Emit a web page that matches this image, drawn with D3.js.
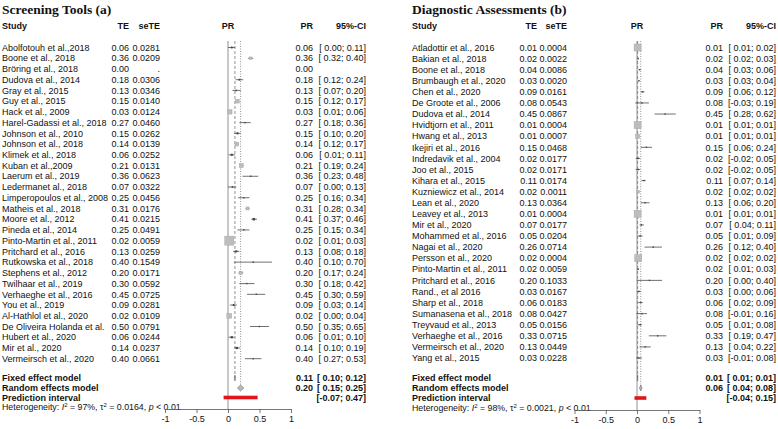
<!DOCTYPE html>
<html>
<head>
<meta charset="utf-8">
<script src="https://cdn.jsdelivr.net/npm/d3@7"></script>
<style>
  body { margin: 0; background: #fff; }
  svg text { font-family: "Liberation Sans", Arial, sans-serif; white-space: pre; fill: #111; }
</style>
</head>
<body>
<svg id="chart" width="778" height="429"></svg>
<script>
// ---- panel (a): screening tools ----
const studiesA = ["Abolfotouh et al.,2018", "Boone et al., 2018", "Bröring et al., 2018", "Dudova et al., 2014",
  "Gray et al., 2015", "Guy et al., 2015", "Hack et al., 2009", "Harel-Gadassi et al., 2018", "Johnson et al., 2010",
  "Johnson et al., 2018", "Klimek et al., 2018", "Kuban et al.,2009", "Laerum et al., 2019", "Ledermanet al., 2018",
  "Limperopoulos et al., 2008", "Matheis et al., 2018", "Moore et al., 2012", "Pineda et al., 2014",
  "Pinto-Martin et al., 2011", "Pritchard et al., 2016", "Rutkowska et al., 2018", "Stephens et al., 2012",
  "Twilhaar et al., 2019", "Verhaeghe et al., 2016", "You et al., 2019", "Al-Hathlol et al., 2020",
  "De Oliveira Holanda et al.", "Hubert et al., 2020", "Mir et al., 2020", "Vermeirsch et al., 2020"];
const teA = [0.06, 0.36, 0.00, 0.18, 0.13, 0.15, 0.03, 0.27, 0.15, 0.14, 0.06, 0.21, 0.36, 0.07, 0.25, 0.31, 0.41,
  0.25, 0.02, 0.13, 0.40, 0.20, 0.30, 0.45, 0.09, 0.02, 0.50, 0.06, 0.14, 0.40];
const seA = [0.0281, 0.0209, null, 0.0306, 0.0346, 0.0140, 0.0124, 0.0460, 0.0262, 0.0139, 0.0252, 0.0131, 0.0623,
  0.0322, 0.0456, 0.0176, 0.0215, 0.0491, 0.0059, 0.0259, 0.1549, 0.0171, 0.0592, 0.0725, 0.0281, 0.0109, 0.0791,
  0.0244, 0.0237, 0.0661];
const loA = [0.00, 0.32, null, 0.12, 0.07, 0.12, 0.01, 0.18, 0.10, 0.12, 0.01, 0.19, 0.23, 0.00, 0.16, 0.28, 0.37,
  0.15, 0.01, 0.08, 0.10, 0.17, 0.18, 0.30, 0.03, 0.00, 0.35, 0.01, 0.10, 0.27];
const hiA = [0.11, 0.40, null, 0.24, 0.20, 0.17, 0.06, 0.36, 0.20, 0.17, 0.11, 0.24, 0.48, 0.13, 0.34, 0.34, 0.46,
  0.34, 0.03, 0.18, 0.70, 0.24, 0.42, 0.59, 0.14, 0.04, 0.65, 0.10, 0.19, 0.53];
const summaryA = { fixed: [0.11, 0.10, 0.12], random: [0.20, 0.15, 0.25], pred: [-0.07, 0.47] };
const hetA = ["97%", "0.0164", "0.01"];

// ---- panel (b): diagnostic assessments ----
const studiesB = ["Atladottir et al., 2016", "Bakian et al., 2018", "Boone et al., 2018", "Brumbaugh et al., 2020",
  "Chen et al., 2020", "De Groote et al., 2006", "Dudova et al., 2014", "Hvidtjorn et al., 2011", "Hwang et al., 2013",
  "Ikejiri et al., 2016", "Indredavik et al., 2004", "Joo et al., 2015", "Kihara et al., 2015", "Kuzniewicz et al., 2014",
  "Lean et al., 2020", "Leavey et al., 2013", "Mir et al., 2020", "Mohammed et al., 2016", "Nagai et al., 2020",
  "Persson et al., 2020", "Pinto-Martin et al., 2011", "Pritchard et al., 2016", "Rand., et al 2016", "Sharp et al., 2018",
  "Sumanasena et al., 2018", "Treyvaud et al., 2013", "Verhaeghe et al., 2016", "Vermeirsch et al., 2020", "Yang et al., 2015"];
const teB = [0.01, 0.02, 0.04, 0.03, 0.09, 0.08, 0.45, 0.01, 0.01, 0.15, 0.02, 0.02, 0.11, 0.02, 0.13, 0.01, 0.07,
  0.05, 0.26, 0.02, 0.02, 0.20, 0.03, 0.06, 0.08, 0.05, 0.33, 0.13, 0.03];
const seB = [0.0004, 0.0022, 0.0086, 0.0020, 0.0161, 0.0543, 0.0867, 0.0004, 0.0007, 0.0468, 0.0177, 0.0171, 0.0174,
  0.0011, 0.0364, 0.0004, 0.0177, 0.0204, 0.0714, 0.0004, 0.0059, 0.1033, 0.0167, 0.0183, 0.0427, 0.0156, 0.0715,
  0.0449, 0.0228];
const loB = [0.01, 0.02, 0.03, 0.03, 0.06, -0.03, 0.28, 0.01, 0.01, 0.06, -0.02, -0.02, 0.07, 0.02, 0.06, 0.01, 0.04,
  0.01, 0.12, 0.02, 0.01, 0.00, 0.00, 0.02, -0.01, 0.01, 0.19, 0.04, -0.01];
const hiB = [0.02, 0.03, 0.06, 0.04, 0.12, 0.19, 0.62, 0.01, 0.01, 0.24, 0.05, 0.05, 0.14, 0.02, 0.20, 0.01, 0.11,
  0.09, 0.40, 0.02, 0.03, 0.40, 0.06, 0.09, 0.16, 0.08, 0.47, 0.22, 0.08];
const summaryB = { fixed: [0.01, 0.01, 0.01], random: [0.06, 0.04, 0.08], pred: [-0.04, 0.15] };
const hetB = ["98%", "0.0021", "0.01"];

const axisTicks = [-1, -0.5, 0, 0.5, 1];

const svg = d3.select("#chart");
const f2 = v => v.toFixed(2);
const ciText = (lo, hi) => "[" + (lo < 0 ? "" : " ") + f2(lo) + "; " + f2(hi) + "]";

function drawPanel(p) {
  const g = svg.append("g");
  const n = p.studies.length;
  const x = d3.scaleLinear().domain([-1, 1]).range(p.xRange);
  const y = d3.scaleLinear().domain([0, n - 1]).range([p.yFirst, p.yLast]);
  const fs = 9, off = 3.2;

  // title
  g.append("text").attr("x", p.studyX).attr("y", 14)
    .style("font-family", "'Liberation Serif', 'Times New Roman', serif")
    .style("font-weight", "bold").style("font-size", "13.5px").text(p.title);

  // headers
  const hy = 26 + off;
  const hdr = (tx, xx, anchor) => g.append("text").attr("x", xx).attr("y", hy).attr("text-anchor", anchor)
    .style("font-weight", "bold").style("font-size", fs + "px").text(tx);
  hdr("Study", p.studyX, "start");
  hdr("TE", p.teR, "end");
  hdr("seTE", p.seR, "end");
  hdr("PR", x(0), "middle");
  hdr("PR", p.prR, "end");
  hdr("95%-CI", p.ciR, "end");

  // study rows text
  const rows = g.append("g").style("font-size", fs + "px");
  p.studies.forEach((s, i) => {
    const yy = y(i) + off;
    rows.append("text").attr("x", p.studyX).attr("y", yy).text(s);
    rows.append("text").attr("x", p.teR).attr("y", yy).attr("text-anchor", "end").text(f2(p.te[i]));
    rows.append("text").attr("x", p.seR).attr("y", yy).attr("text-anchor", "end")
      .text(p.se[i] == null ? "." : p.se[i].toFixed(4));
    rows.append("text").attr("x", p.prR).attr("y", yy).attr("text-anchor", "end").text(f2(p.te[i]));
    if (p.lo[i] != null)
      rows.append("text").attr("x", p.ciR).attr("y", yy).attr("text-anchor", "end").text(ciText(p.lo[i], p.hi[i]));
  });

  // reference lines
  const top = 41;
  g.append("line").attr("x1", x(0)).attr("x2", x(0)).attr("y1", top).attr("y2", p.axisY)
    .attr("stroke", "#777").attr("stroke-width", 0.8);
  g.append("line").attr("x1", x(p.sum.fixed[0])).attr("x2", x(p.sum.fixed[0])).attr("y1", top).attr("y2", p.sumY[0])
    .attr("stroke", "#777").attr("stroke-width", 0.8).attr("stroke-dasharray", "3,2");
  g.append("line").attr("x1", x(p.sum.random[0])).attr("x2", x(p.sum.random[0])).attr("y1", top).attr("y2", p.sumY[1] - 3)
    .attr("stroke", "#777").attr("stroke-width", 0.8).attr("stroke-dasharray", "1,1.5");

  // CI lines and squares
  p.studies.forEach((s, i) => {
    if (p.se[i] == null) return;
    g.append("line").attr("x1", x(p.lo[i])).attr("x2", x(p.hi[i])).attr("y1", y(i)).attr("y2", y(i))
      .attr("stroke", "#333").attr("stroke-width", 0.7);
    const sz = Math.max(1.4, p.k / p.se[i]);
    g.append("rect").attr("x", x(p.te[i]) - sz / 2).attr("y", y(i) - sz / 2).attr("width", sz).attr("height", sz)
      .attr("fill", sz > 2.5 ? "#bdbdbd" : "#444").attr("stroke", sz > 2.5 ? "#a8a8a8" : "none").attr("stroke-width", 0.5);
  });

  // summary diamonds
  const diamond = (v, yy, fill) => {
    const h = 3;
    g.append("path").attr("d", `M${x(v[1])},${yy} L${x(v[0])},${yy - h} L${x(v[2])},${yy} L${x(v[0])},${yy + h} Z`)
      .attr("fill", fill).attr("stroke", "#666").attr("stroke-width", 0.6);
  };
  diamond(p.sum.fixed, p.sumY[0], "#bbb");
  diamond(p.sum.random, p.sumY[1], "#bbb");
  g.append("rect").attr("x", x(p.sum.pred[0])).attr("y", p.sumY[2] - 1.8)
    .attr("width", x(p.sum.pred[1]) - x(p.sum.pred[0])).attr("height", 3.6).attr("fill", "#e0161b");

  // summary labels
  const sl = g.append("g").style("font-size", fs + "px").style("font-weight", "bold");
  ["Fixed effect model", "Random effects model", "Prediction interval"].forEach((t, j) =>
    sl.append("text").attr("x", p.studyX).attr("y", p.sumY[j] + off).text(t));
  sl.append("text").attr("x", p.prR).attr("y", p.sumY[0] + off).attr("text-anchor", "end").text(f2(p.sum.fixed[0]));
  sl.append("text").attr("x", p.ciR).attr("y", p.sumY[0] + off).attr("text-anchor", "end").text(ciText(p.sum.fixed[1], p.sum.fixed[2]));
  sl.append("text").attr("x", p.prR).attr("y", p.sumY[1] + off).attr("text-anchor", "end").text(f2(p.sum.random[0]));
  sl.append("text").attr("x", p.ciR).attr("y", p.sumY[1] + off).attr("text-anchor", "end").text(ciText(p.sum.random[1], p.sum.random[2]));
  sl.append("text").attr("x", p.ciR).attr("y", p.sumY[2] + off).attr("text-anchor", "end").text(ciText(p.sum.pred[0], p.sum.pred[1]));

  // heterogeneity
  const ht = g.append("text").attr("x", p.studyX).attr("y", p.hetY + 3).style("font-size", "8.8px");
  ht.append("tspan").text("Heterogeneity: ");
  ht.append("tspan").style("font-style", "italic").text("I");
  ht.append("tspan").attr("dy", -3.5).style("font-size", "6px").text("2");
  ht.append("tspan").attr("dy", 3.5).text(" = " + p.het[0] + ", τ");
  ht.append("tspan").attr("dy", -3.5).style("font-size", "6px").text("2");
  ht.append("tspan").attr("dy", 3.5).text(" = " + p.het[1] + ", ");
  ht.append("tspan").style("font-style", "italic").text("p");
  ht.append("tspan").text(" < " + p.het[2]);

  // axis
  const ax = g.append("g").attr("transform", `translate(0,${p.axisY})`)
    .call(d3.axisBottom(x).tickValues(axisTicks).tickSize(4).tickSizeOuter(0).tickFormat(d => String(d)));
  ax.select(".domain").attr("stroke", "#555").attr("stroke-width", 0.8);
  ax.selectAll(".tick line").attr("stroke", "#555").attr("stroke-width", 0.8);
  ax.selectAll(".tick text").attr("y", 7).style("font-size", "9px").style("font-family", "'Liberation Sans', Arial, sans-serif").attr("fill", "#111");
}

drawPanel({
  title: "Screening Tools (a)", studies: studiesA, te: teA, se: seA, lo: loA, hi: hiA, sum: summaryA, het: hetA,
  studyX: 2, teR: 129, seR: 160, xRange: [165, 291], prR: 313, ciR: 366,
  yFirst: 47.5, yLast: 358.7, sumY: [378, 388, 397.5], hetY: 407, axisY: 409, k: 0.053
});
drawPanel({
  title: "Diagnostic Assessments (b)", studies: studiesB, te: teB, se: seB, lo: loB, hi: hiB, sum: summaryB, het: hetB,
  studyX: 412, teR: 537, seR: 567, xRange: [574.5, 699.5], prR: 723, ciR: 776,
  yFirst: 47.5, yLast: 358, sumY: [378, 388, 398], hetY: 408, axisY: 410, k: 0.0028
});
</script>
</body>
</html>
